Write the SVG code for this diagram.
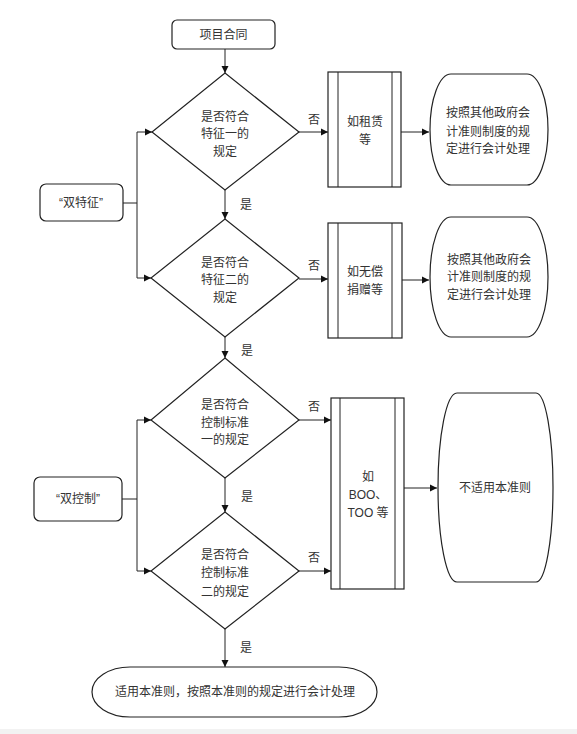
<svg xmlns="http://www.w3.org/2000/svg" width="577" height="734" viewBox="0 0 577 734">
<defs>
<marker id="ah" markerWidth="8" markerHeight="8" refX="7" refY="4" orient="auto" markerUnits="userSpaceOnUse">
<path d="M0,0.5 L7,4 L0,7.5 Z" fill="#111"/>
</marker>
<style>
.s{fill:#fff;stroke:#222;stroke-width:1.2}
.c{fill:none;stroke:#222;stroke-width:1}
.t{font-family:"Liberation Sans","Noto Sans CJK SC",sans-serif;font-size:12px;fill:#333;text-anchor:middle}
</style>
</defs>
<rect x="0" y="0" width="577" height="734" fill="#fff"/>
<rect x="0" y="729" width="577" height="5" fill="#f2f2f2"/>
<g id="connectors">
<line class="c" x1="225" y1="49" x2="225" y2="73" marker-end="url(#ah)"/>
<line class="c" x1="225" y1="190" x2="225" y2="219" marker-end="url(#ah)"/>
<line class="c" x1="225" y1="337" x2="225" y2="358" marker-end="url(#ah)"/>
<line class="c" x1="225" y1="478" x2="225" y2="512" marker-end="url(#ah)"/>
<line class="c" x1="225" y1="629" x2="225" y2="667" marker-end="url(#ah)"/>
<line class="c" x1="299" y1="132" x2="328" y2="132" marker-end="url(#ah)"/>
<line class="c" x1="401" y1="132" x2="429" y2="132" marker-end="url(#ah)"/>
<line class="c" x1="299" y1="279" x2="328" y2="279" marker-end="url(#ah)"/>
<line class="c" x1="402" y1="280" x2="429" y2="280" marker-end="url(#ah)"/>
<line class="c" x1="299" y1="420" x2="331" y2="420" marker-end="url(#ah)"/>
<line class="c" x1="299" y1="571" x2="331" y2="571" marker-end="url(#ah)"/>
<line class="c" x1="404" y1="488" x2="437" y2="488" marker-end="url(#ah)"/>
<polyline class="c" points="123,203 137,203 137,132 152,132" marker-end="url(#ah)"/>
<polyline class="c" points="137,203 137,278 151,278" marker-end="url(#ah)"/>
<polyline class="c" points="122,499 137,499 137,420 151,420" marker-end="url(#ah)"/>
<polyline class="c" points="137,499 137,571 151,571" marker-end="url(#ah)"/>
<text class="t" x="314" y="124">否</text>
<text class="t" x="314" y="270">否</text>
<text class="t" x="314" y="411">否</text>
<text class="t" x="314" y="562">否</text>
<text class="t" x="246" y="209">是</text>
<text class="t" x="247" y="355">是</text>
<text class="t" x="247" y="501">是</text>
<text class="t" x="246" y="652">是</text>
</g>
<g id="start">
<rect class="s" x="172" y="20" width="103" height="29" rx="5"/>
<text class="t" x="223.5" y="39">项目合同</text>
</g>
<g id="dual-feature">
<rect class="s" x="40" y="184" width="83" height="37" rx="6"/>
<text class="t" x="81" y="207">“双特征”</text>
</g>
<g id="dual-control">
<rect class="s" x="34" y="477" width="88" height="44" rx="6"/>
<text class="t" x="78" y="503">“双控制”</text>
</g>
<g id="d1">
<polygon class="s" points="225,73 299,132 225,190 152,132"/>
<text class="t" x="225" y="121">是否符合</text>
<text class="t" x="225" y="138">特征一的</text>
<text class="t" x="225" y="156">规定</text>
</g>
<g id="d2">
<polygon class="s" points="225,219 299,278 225,337 151,278"/>
<text class="t" x="225" y="267">是否符合</text>
<text class="t" x="225" y="284">特征二的</text>
<text class="t" x="225" y="302">规定</text>
</g>
<g id="d3">
<polygon class="s" points="225,358 299,420 225,478 151,420"/>
<text class="t" x="225" y="409">是否符合</text>
<text class="t" x="225" y="427">控制标准</text>
<text class="t" x="225" y="444">一的规定</text>
</g>
<g id="d4">
<polygon class="s" points="225,512 299,571 225,629 151,571"/>
<text class="t" x="225" y="559">是否符合</text>
<text class="t" x="225" y="577">控制标准</text>
<text class="t" x="225" y="596">二的规定</text>
</g>
<g id="p1">
<rect class="s" x="328" y="72" width="73" height="115"/>
<line class="c" x1="338" y1="72" x2="338" y2="187"/>
<line class="c" x1="392" y1="72" x2="392" y2="187"/>
<text class="t" x="365" y="126">如租赁</text>
<text class="t" x="365" y="144">等</text>
</g>
<g id="p2">
<rect class="s" x="328" y="223" width="74" height="115"/>
<line class="c" x1="338" y1="223" x2="338" y2="338"/>
<line class="c" x1="392" y1="223" x2="392" y2="338"/>
<text class="t" x="365" y="276">如无偿</text>
<text class="t" x="365" y="294">捐赠等</text>
</g>
<g id="p3">
<rect class="s" x="331" y="398" width="73" height="191"/>
<line class="c" x1="340" y1="398" x2="340" y2="589"/>
<line class="c" x1="395" y1="398" x2="395" y2="589"/>
<text class="t" x="368" y="481">如</text>
<text class="t" x="368" y="499">BOO、</text>
<text class="t" x="368" y="517">TOO 等</text>
</g>
<g id="o1">
<path class="s" d="M451,74 H527 A21,55.5 0 0 1 527,185 H451 A21,55.5 0 0 1 451,74 Z"/>
<text class="t" x="488" y="117">按照其他政府会</text>
<text class="t" x="488" y="136">计准则制度的规</text>
<text class="t" x="488" y="153">定进行会计处理</text>
</g>
<g id="o2">
<path class="s" d="M451,217 H527 A21,60 0 0 1 527,337 H451 A21,60 0 0 1 451,217 Z"/>
<text class="t" x="489" y="264">按照其他政府会</text>
<text class="t" x="489" y="281">计准则制度的规</text>
<text class="t" x="489" y="299">定进行会计处理</text>
</g>
<g id="o3">
<path class="s" d="M457,393 H536 A17,94.5 0 0 1 536,582 H457 A19,94.5 0 0 1 457,393 Z"/>
<text class="t" x="495" y="492">不适用本准则</text>
</g>
<g id="end">
<path class="s" d="M130,667 H339 A38,25 0 0 1 339,717 H130 A38,25 0 0 1 130,667 Z"/>
<text class="t" x="235" y="696">适用本准则，按照本准则的规定进行会计处理</text>
</g>
</svg>
